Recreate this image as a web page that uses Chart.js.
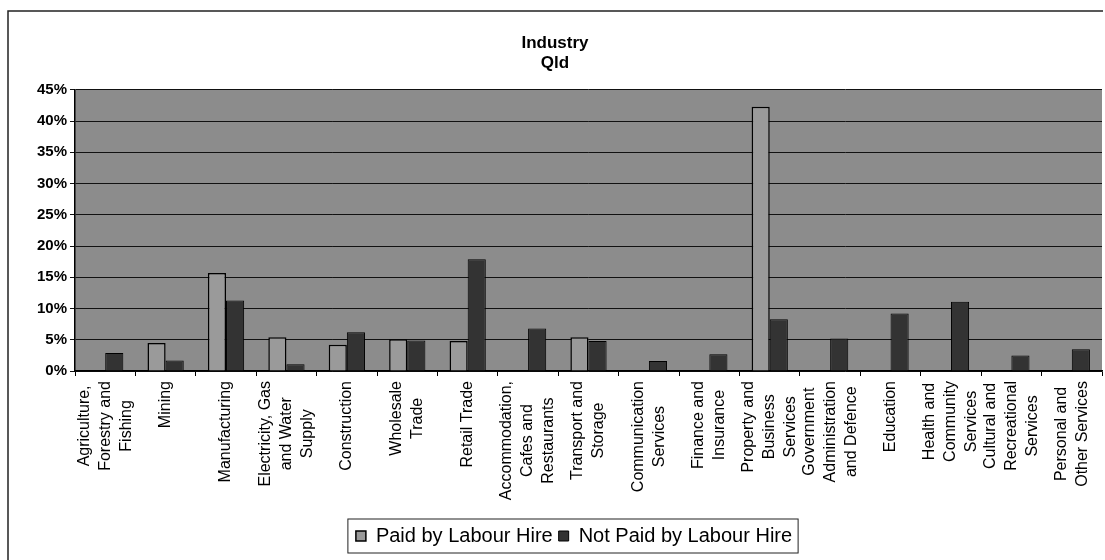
<!DOCTYPE html>
<html>
<head>
<meta charset="utf-8">
<script src="https://cdn.jsdelivr.net/npm/chart.js@4.4.1/dist/chart.umd.min.js"></script>
<style>
  html, body { margin: 0; padding: 0; background: #fff; }
  #wrap { width: 1105px; height: 560px; position: relative; }
</style>
</head>
<body>
<div id="wrap"><canvas id="chart"></canvas></div>
<script>
// --- Data ---
const industries = [
  ['Agriculture,', 'Forestry and', 'Fishing'],
  ['Mining'],
  ['Manufacturing'],
  ['Electricity, Gas', 'and Water', 'Supply'],
  ['Construction'],
  ['Wholesale', 'Trade'],
  ['Retail Trade'],
  ['Accommodation,', 'Cafes and', 'Restaurants'],
  ['Transport and', 'Storage'],
  ['Communication', 'Services'],
  ['Finance and', 'Insurance'],
  ['Property and', 'Business', 'Services'],
  ['Government', 'Administration', 'and Defence'],
  ['Education'],
  ['Health and', 'Community', 'Services'],
  ['Cultural and', 'Recreational', 'Services'],
  ['Personal and', 'Other Services']
];
const paidByLabourHire    = [0, 4.5, 15.7, 5.4, 4.2, 5.1, 4.8, 0, 5.4, 0, 0, 42.3, 0, 0, 0, 0, 0];
const notPaidByLabourHire = [2.9, 1.7, 11.3, 1.1, 6.2, 4.9, 17.9, 6.8, 4.8, 1.6, 2.7, 8.3, 5.2, 9.2, 11.1, 2.5, 3.5];
const yTicks = [0, 5, 10, 15, 20, 25, 30, 35, 40, 45];

// --- Styles ---
const plotBg = '#8c8c8c';
const paidColor = '#9a9a9a';
const notPaidColor = '#333333';
const font = 'Arial, "Liberation Sans", sans-serif';
const labelFont = '16px ' + font;
const labelLineGap = 21;

// gray plot area, wrapped category labels, outer frame, legend frame
const frames = {
  id: 'frames',
  afterLayout(chart) {
    // Excel put the legend a little right of centre
    chart.legend.left += 19;
    chart.legend.right += 19;
  },
  beforeDraw(chart) {
    const { ctx, chartArea: a } = chart;
    ctx.save();
    ctx.fillStyle = plotBg;
    ctx.fillRect(a.left, a.top, a.right - a.left, a.bottom - a.top);
    ctx.restore();
  },
  afterDraw(chart) {
    const ctx = chart.ctx;
    const xs = chart.scales.x;
    ctx.save();

    // category labels: rotated, lines centred like Excel does
    ctx.font = labelFont;
    ctx.fillStyle = '#000';
    ctx.textBaseline = 'middle';
    ctx.textAlign = 'center';
    const top = xs.top + 10;
    industries.forEach((lines, i) => {
      const cx = xs.getPixelForTick(i);
      const longest = Math.max(...lines.map(s => ctx.measureText(s).width));
      lines.forEach((s, j) => {
        const lx = cx + (j - (lines.length - 1) / 2) * labelLineGap;
        ctx.save();
        ctx.translate(lx, top + longest / 2);
        ctx.rotate(-Math.PI / 2);
        ctx.fillText(s, 0, 0);
        ctx.restore();
      });
    });

    // outer chart frame
    ctx.strokeStyle = '#222';
    ctx.lineWidth = 1.5;
    ctx.beginPath();
    ctx.moveTo(8, 565);
    ctx.lineTo(8, 11);
    ctx.lineTo(1103, 11);
    ctx.stroke();

    // legend frame
    const boxes = chart.legend.legendHitBoxes;
    if (boxes && boxes.length) {
      const l = Math.min(...boxes.map(b => b.left)) - 8;
      const r = Math.max(...boxes.map(b => b.left + b.width)) + 6;
      const t = boxes[0].top - 7;
      const b = boxes[0].top + boxes[0].height + 7;
      ctx.lineWidth = 1;
      ctx.strokeRect(l, t, r - l, b - t);
    }
    ctx.restore();
  }
};

new Chart(document.getElementById('chart'), {
  type: 'bar',
  data: {
    labels: industries,
    datasets: [
      {
        label: 'Paid by Labour Hire',
        data: paidByLabourHire,
        backgroundColor: paidColor,
        borderColor: '#000',
        borderWidth: 1.5
      },
      {
        label: 'Not Paid by Labour Hire',
        data: notPaidByLabourHire,
        backgroundColor: notPaidColor,
        borderColor: '#000',
        borderWidth: 1
      }
    ]
  },
  options: {
    responsive: true,
    maintainAspectRatio: false,
    animation: false,
    layout: { padding: { left: 8, right: 3, top: 28, bottom: 4 } },
    datasets: { bar: { categoryPercentage: 0.6, barPercentage: 1 } },
    scales: {
      x: {
        offset: true,
        grid: { drawOnChartArea: false, drawTicks: true, tickLength: 5, color: '#000' },
        border: { display: true, color: '#000', width: 1.5 },
        ticks: { display: false },
        afterFit(scale) { scale.height = 149; }
      },
      y: {
        min: 0,
        max: 45,
        afterBuildTicks(scale) { scale.ticks = yTicks.map(v => ({ value: v })); },
        grid: { color: '#111', lineWidth: 1, tickLength: 5 },
        border: { display: true, color: '#000', width: 1.5 },
        ticks: {
          color: '#000',
          padding: 3,
          font: { family: font, size: 15, weight: 'bold' },
          callback: v => v + '%'
        },
        afterFit(scale) { scale.width = 67; }
      }
    },
    plugins: {
      title: {
        display: true,
        text: ['Industry', 'Qld'],
        color: '#000',
        font: { family: font, size: 17, weight: 'bold' },
        padding: { top: 5, bottom: 16 }
      },
      legend: {
        position: 'bottom',
        labels: {
          boxWidth: 10,
          boxHeight: 10,
          padding: 6,
          color: '#000',
          font: { family: font, size: 20 }
        }
      },
      tooltip: { enabled: false }
    }
  },
  plugins: [frames]
});
</script>
</body>
</html>
